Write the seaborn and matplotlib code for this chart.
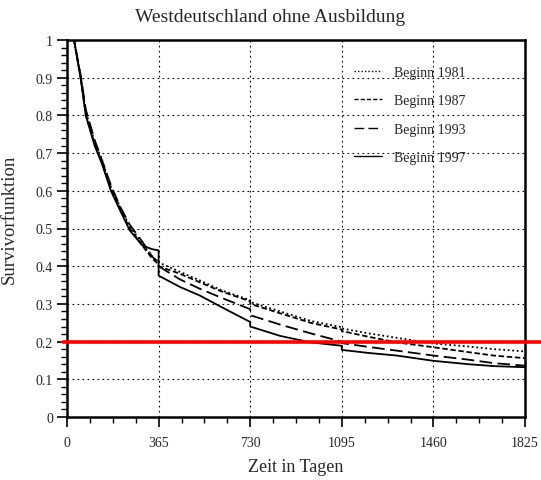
import numpy as np
import pandas as pd
import matplotlib
matplotlib.use("Agg")
import matplotlib.pyplot as plt
from matplotlib.ticker import MultipleLocator
import seaborn as sns

# ---- data ----
days = [0, 28, 55, 75, 110, 140, 175, 210, 250, 300, 340, 365, 365, 450, 530, 620,
        730, 730, 850, 970, 1095, 1095, 1200, 1314, 1460, 1600, 1700, 1825]
s1981 = [1.0, 1.0, 0.90, 0.81, 0.73, 0.68, 0.61, 0.56, 0.505, 0.46, 0.425, 0.41, 0.41,
         0.385, 0.362, 0.335, 0.31, 0.305, 0.28, 0.255, 0.238, 0.235, 0.222, 0.21,
         0.195, 0.187, 0.18, 0.174]
s1987 = [1.0, 1.0, 0.90, 0.80, 0.725, 0.675, 0.605, 0.555, 0.50, 0.455, 0.42, 0.405, 0.40,
         0.38, 0.357, 0.332, 0.307, 0.30, 0.275, 0.25, 0.232, 0.228, 0.213, 0.198,
         0.185, 0.172, 0.163, 0.156]
s1993 = [1.0, 1.0, 0.905, 0.815, 0.735, 0.68, 0.615, 0.56, 0.51, 0.465, 0.425, 0.41, 0.40,
         0.365, 0.34, 0.315, 0.286, 0.27, 0.245, 0.222, 0.20, 0.196, 0.186, 0.176,
         0.163, 0.152, 0.143, 0.136]
s1997 = [1.0, 1.0, 0.895, 0.80, 0.72, 0.67, 0.60, 0.55, 0.495, 0.455, 0.445, 0.442, 0.375,
         0.345, 0.322, 0.29, 0.252, 0.24, 0.215, 0.198, 0.189, 0.178, 0.17, 0.163,
         0.149, 0.14, 0.135, 0.132]
labels = ["Beginn 1981", "Beginn 1987", "Beginn 1993", "Beginn 1997"]
xticks = [0, 365, 730, 1095, 1460, 1825]
yticks = [0, 0.1, 0.2, 0.3, 0.4, 0.5, 0.6, 0.7, 0.8, 0.9, 1.0]
ytick_labels = ["0", "0.1", "0.2", "0.3", "0.4", "0.5", "0.6", "0.7", "0.8", "0.9", "1"]
threshold = 0.2

rows = []
for lab, vals in zip(labels, [s1981, s1987, s1993, s1997]):
    for d, v in zip(days, vals):
        rows.append({"Tage": d, "S": v, "Serie": lab})
df = pd.DataFrame(rows)

sns.set_style("white")
plt.rcParams["font.family"] = ["Liberation Serif", "DejaVu Serif"]

fig = plt.figure(figsize=(5.41, 4.81), dpi=100)
ax = fig.add_axes([67 / 541, 1 - 418 / 481, (525 - 67) / 541, (418 - 41) / 481])

dashes = {
    "Beginn 1981": (1, 1.5),
    "Beginn 1987": (3, 1.5),
    "Beginn 1993": (7, 3),
    "Beginn 1997": "",
}
sns.lineplot(data=df, x="Tage", y="S", hue="Serie", style="Serie",
             palette={l: "black" for l in labels}, dashes=dashes,
             estimator=None, sort=False, units="Serie", linewidth=1.3, ax=ax,
             legend=True)

ax.set_xlim(0, 1825)
ax.set_ylim(0, 1.0)
ax.set_xticks(xticks)
ax.set_xticklabels([str(t) for t in xticks])
ax.set_yticks(yticks)
ax.set_yticklabels(ytick_labels)
ax.xaxis.set_minor_locator(MultipleLocator(91.25))
ax.yaxis.set_minor_locator(MultipleLocator(0.02))
ax.tick_params(axis="both", which="both", bottom=True, left=True, top=False, right=False)
ax.tick_params(axis="both", which="major", direction="out", length=7, width=1.2,
               labelsize=10, color="black", pad=3)
ax.tick_params(axis="both", which="minor", direction="out", length=4.5, width=1.0,
               color="black")
ax.tick_params(axis="x", which="major", pad=7)

# dotted grid
for t in xticks[1:-1]:
    ax.axvline(t, color="black", lw=0.8, ls=(0, (1.5, 3)), zorder=0)
for t in yticks[1:-1]:
    ax.axhline(t, color="black", lw=0.8, ls=(0, (1.5, 3)), zorder=0)

for sp in ax.spines.values():
    sp.set_visible(True)
    sp.set_color("black")
    sp.set_linewidth(1.8)

ax.axhline(threshold, xmin=-0.008, xmax=1.04, color="red", lw=2.6, clip_on=False, zorder=5)

ax.set_xlabel("Zeit in Tagen", fontsize=13, labelpad=6)
ax.set_ylabel("Survivorfunktion", fontsize=13.5)
ax.yaxis.set_label_coords(-0.107, 0.528)
fig.text(0.5, 1 - 17 / 481, "Westdeutschland ohne Ausbildung", ha="center", va="center",
         fontsize=14)

handles, labs = ax.get_legend_handles_labels()
leg = ax.legend(handles, labs, loc="upper left", bbox_to_anchor=(354 / 541, 1 - 67 / 481),
                bbox_transform=fig.transFigure, frameon=False, fontsize=10,
                handlelength=2.0, handletextpad=0.9, labelspacing=1.1,
                borderpad=0, borderaxespad=0)
for line in leg.get_lines():
    line.set_linewidth(1.0)

fig.savefig("out.png", dpi=100, facecolor="white")
